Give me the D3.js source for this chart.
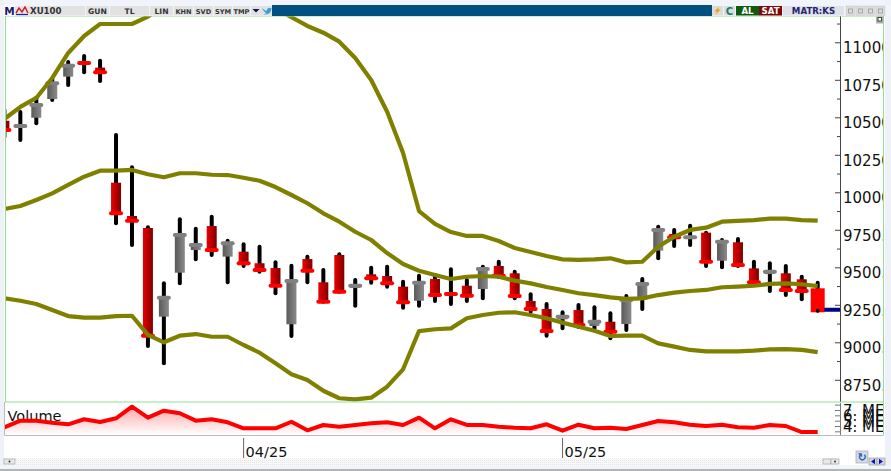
<!DOCTYPE html>
<html><head><meta charset="utf-8">
<style>html,body{margin:0;padding:0;background:#fff;overflow:hidden}svg{display:block}text{font-family:"DejaVu Sans",sans-serif}</style>
<script src="https://cdn.jsdelivr.net/npm/d3@7/dist/d3.min.js"></script>
</head><body><svg id="c" width="891" height="471"></svg>
<script>
const open=[10477,10429,10497,10622,10771,10869,10831,10064,9842,9762,9171,9464,9615,9775,9571,9604,9527,9495,9120,9555,9400,9582,9362,9453,9442,9371,9277,9422,9329,9377,9355,9509,9460,9275,9222,9153,9215,9109,9137,9122,9282,9611,9722,9695,9731,9544,9667,9493,9455,9460,9420,9360];
const high=[10549,10535,10629,10755,10869,10909,10877,10382,10167,9767,9393,9820,9757,9837,9677,9653,9637,9533,9511,9571,9482,9587,9415,9497,9504,9404,9444,9449,9487,9415,9504,9537,9471,9320,9255,9200,9249,9233,9193,9309,9422,9771,9749,9777,9731,9682,9689,9537,9527,9509,9437,9397];
const low=[10369,10349,10460,10615,10715,10800,10742,9793,9649,8975,8860,9393,9553,9582,9400,9509,9471,9327,9042,9400,9271,9337,9244,9397,9371,9231,9244,9275,9255,9275,9293,9435,9293,9204,9044,9093,9102,9093,9027,9082,9222,9560,9642,9649,9509,9500,9509,9389,9342,9315,9287,9211];
const close=[10415,10442,10582,10727,10844,10862,10800,9860,9811,9044,9297,9715,9649,9615,9660,9527,9482,9377,9409,9477,9271,9337,9377,9427,9393,9267,9397,9315,9322,9311,9489,9444,9309,9222,9075,9171,9115,9137,9071,9282,9389,9749,9700,9700,9537,9671,9515,9400,9471,9349,9342,9200];
const upperBand=[10489,10569,10629,10762,10929,11042,11122,11122,11122,11171,11249,11315,11349,11362,11349,11335,11295,11229,11167,11109,11064,11004,10895,10749,10537,10262,9875,9789,9735,9709,9709,9675,9629,9602,9575,9553,9549,9553,9560,9533,9537,9637,9704,9749,9764,9804,9809,9815,9824,9824,9815,9811];
const middleBand=[9889,9909,9949,9993,10049,10104,10144,10144,10149,10120,10100,10127,10127,10117,10115,10097,10077,10035,9982,9927,9860,9804,9737,9682,9595,9522,9477,9449,9422,9437,9442,9437,9411,9393,9369,9349,9327,9315,9300,9289,9293,9315,9331,9342,9349,9367,9371,9377,9389,9393,9387,9375];
const lowerBand=[9293,9277,9255,9215,9175,9164,9164,9175,9177,9049,9000,9044,9055,9037,9037,8982,8931,8860,8787,8749,8677,8627,8620,8631,8704,8820,9075,9087,9093,9160,9182,9197,9200,9182,9160,9131,9104,9077,9042,9044,9044,8993,8971,8949,8940,8940,8940,8944,8953,8955,8949,8935];
const volume=[3.75,5.0,5.0,4.62,4.32,5.26,4.75,5.44,7.62,5.56,6.87,6.38,5.0,5.26,4.69,3.57,3.57,3.57,4.8,3.19,4.19,3.87,4.19,4.5,4.69,4.19,5.56,3.57,5.26,4.19,4.19,3.87,3.68,3.57,4.32,3.12,4.24,3.57,3.68,3.44,4.19,4.94,4.69,4.24,4.0,4.24,3.75,3.68,4.19,4.0,2.87,2.87];
const priceTicks=[8750,9000,9250,9500,9750,10000,10250,10500,10750,11000];
const priceMinor=[8875,9125,9375,9625,9875,10125,10375,10625,10875,11125];
const volumeTicks=[7,6,5,4];
const volumeMinor=[8,3];
const volumeLabels=["7. ME","6. ME","5. ME","4. ME"];
const dateTicks=[{i:15,label:"04/25"},{i:35,label:"05/25"}];
const lastPrice=9217;
const leftTools=[["XU100",29,85,"start"],["GUN",86,109],["TL",110,149],["LIN",150,173],["KHN",174,193],["SVD",194,213],["SYM",214,232],["TMP",233,250]];

const svg=d3.select("#c");
const L=5.5,R=883.5,T=16,B=402,AX=840,VT=403,VB=435;
const x=d3.scaleLinear().domain([0,51]).range([4.4,817.7]);
const y=d3.scaleLinear().domain([11000,9000]).range([42.3,342.3]);
const yv=d3.scaleLinear().domain([7,4]).range([410,426]);
const idx=d3.range(open.length);
const defs=svg.append("defs");
function grad(id,a,b,vert){const g=defs.append("linearGradient").attr("id",id);
 if(vert)g.attr("x1",0).attr("x2",0).attr("y1",0).attr("y2",1);
 g.append("stop").attr("offset",0).attr("stop-color",a);g.append("stop").attr("offset",1).attr("stop-color",b);}
grad("gr","#ee0000","#7c0000");grad("gg","#5a5a5a","#8a8a8a");grad("gv","#ffa8a8","#ffffff",true);
defs.append("clipPath").attr("id","cp").append("rect").attr("x",L).attr("y",T).attr("width",AX-L).attr("height",B-T);
defs.append("clipPath").attr("id","cv").append("rect").attr("x",4).attr("y",VT).attr("width",AX-4).attr("height",VB-VT);
defs.append("clipPath").attr("id","ca").append("rect").attr("x",AX).attr("y",T).attr("width",R-AX).attr("height",VB-T);
const dither=defs.append("pattern").attr("id","dith").attr("width",2).attr("height",2).attr("patternUnits","userSpaceOnUse");
dither.append("rect").attr("width",2).attr("height",2).attr("fill","#f8f8f8");
dither.append("rect").attr("width",1).attr("height",1).attr("fill","#e4e4e4");

// window
svg.append("rect").attr("width",891).attr("height",471).attr("fill","#ffffff");
svg.append("rect").attr("width",891).attr("height",5).attr("fill","#f1f4fa");
svg.append("rect").attr("x",0).attr("y",0).attr("width",4).attr("height",471).attr("fill","#eef1f7");
svg.append("rect").attr("x",885).attr("y",0).attr("width",6).attr("height",471).attr("fill","#eef1f7");
svg.append("rect").attr("x",0).attr("y",465).attr("width",891).attr("height",6).attr("fill","#f1f4fa");
svg.append("rect").attr("x",0).attr("y",469).attr("width",891).attr("height",2).attr("fill","#b4b4b4");

// price pane
const pane=svg.append("g").attr("clip-path","url(#cp)");
pane.append("g").selectAll("line").data(idx).join("line")
 .attr("x1",i=>x(i)).attr("x2",i=>x(i)).attr("y1",i=>y(high[i])).attr("y2",i=>y(low[i]))
 .attr("stroke","#000").attr("stroke-width",4).attr("stroke-linecap","round");
const isUp=i=>close[i]>=open[i];
const last=idx.length-1;
pane.append("g").selectAll("rect").data(idx).join("rect")
 .attr("x",i=>x(i)-(i===last?7:5)).attr("width",i=>i===last?14:10)
 .attr("y",i=>y(Math.max(open[i],close[i]))).attr("height",i=>Math.abs(y(open[i])-y(close[i])))
 .attr("fill",i=>i===last?"#ff0000":isUp(i)?"url(#gg)":"url(#gr)");
pane.append("g").selectAll("rect").data(idx.filter(i=>i!==last)).join("rect")
 .attr("x",i=>x(i)-7).attr("width",14).attr("y",i=>y(close[i])-2).attr("height",4).attr("rx",2)
 .attr("fill",i=>isUp(i)?"#808080":"#ff0000");
pane.append("circle").attr("cx",x(last)).attr("cy",y(low[last])).attr("r",1.8).attr("fill","#000");

const line=d3.line().x((d,i)=>x(i)).y(d=>y(d));
[upperBand,middleBand,lowerBand].forEach(b=>{
 pane.append("path").attr("d",line(b)).attr("fill","none").attr("stroke","#808000").attr("stroke-width",4.2).attr("stroke-linejoin","round");
});
// last-price marker
svg.append("line").attr("x1",x(last)+6.5).attr("x2",AX).attr("y1",y(lastPrice)).attr("y2",y(lastPrice)).attr("stroke","#000080").attr("stroke-width",4);

// volume pane
const vp=svg.append("g").attr("clip-path","url(#cv)");
vp.append("text").attr("x",7.5).attr("y",421).attr("font-size",14.5).attr("fill","#111").text("Volume");
const vx=(d,i)=>x(i);
vp.append("path").attr("d",d3.area().x(vx).y0(VB).y1(d=>yv(d))(volume)).attr("fill","url(#gv)");
vp.append("path").attr("d",d3.line().x(vx).y(d=>yv(d))(volume)).attr("fill","none").attr("stroke","#ff0000").attr("stroke-width",4).attr("stroke-linejoin","round");

// price axis
function style(g){g.select(".domain").remove();g.selectAll("line").attr("stroke","#444").attr("stroke-width",1);}
const gMinor=svg.append("g").attr("clip-path","url(#ca2)").attr("transform",`translate(${AX},0)`);
defs.append("clipPath").attr("id","ca2").append("rect").attr("x",-10).attr("y",T).attr("width",20).attr("height",B-T);
gMinor.call(d3.axisLeft(y).tickValues(priceMinor).tickSize(3).tickFormat("")).call(style);
const gMajor=svg.append("g").attr("transform",`translate(${AX},0)`);
gMajor.call(d3.axisLeft(y).tickValues(priceTicks).tickSize(5).tickFormat(""));
gMajor.call(style);
svg.append("line").attr("x1",AX+.5).attr("x2",AX+.5).attr("y1",T).attr("y2",B).attr("stroke","#444");
svg.append("g").attr("clip-path","url(#ca)").selectAll("text").data(priceTicks).join("text")
 .attr("x",AX+3).attr("y",d=>y(d)+11).attr("font-size",15).attr("fill","#111").text(d=>d+".");

// volume axis
const gv=svg.append("g").attr("transform",`translate(${AX},0)`);
gv.call(d3.axisLeft(yv).tickValues(volumeTicks.concat(volumeMinor)).tickSize(5).tickFormat("")).call(style);
gv.selectAll("line").attr("stroke","#777");
svg.append("line").attr("x1",AX+.5).attr("x2",AX+.5).attr("y1",VT).attr("y2",VB).attr("stroke","#777");
svg.append("g").attr("clip-path","url(#ca)").selectAll("text").data(volumeTicks).join("text")
 .attr("x",AX+3).attr("y",d=>yv(d)+6).attr("font-size",15).attr("fill","#111").text((d,i)=>volumeLabels[i]);

// frames
svg.append("rect").attr("x",L).attr("y",T).attr("width",R-L).attr("height",B-T).attr("fill","none").attr("stroke","#90e090");
svg.append("path").attr("d",`M4.5 ${B} V${VB}.5 H${R}`).attr("fill","none").attr("stroke","#bbbbbb");
svg.append("line").attr("x1",R).attr("x2",R).attr("y1",B).attr("y2",VB).attr("stroke","#90e090");

// date axis
const gd=svg.append("g");
dateTicks.forEach(d=>{
 gd.append("line").attr("x1",x(d.i)).attr("x2",x(d.i)).attr("y1",438).attr("y2",458).attr("stroke","#666");
 gd.append("text").attr("x",x(d.i)+2).attr("y",457).attr("font-size",14.5).attr("fill","#111").text(d.label);
});

// scrollbar
svg.append("rect").attr("x",4).attr("y",458.5).attr("width",833).attr("height",7).attr("fill","url(#dith)");
function btn(a,b,yy,h,fill){svg.append("rect").attr("x",a).attr("y",yy).attr("width",b-a).attr("height",h).attr("fill",fill||"#e8e8e8").attr("stroke","#9a9a9a").attr("stroke-width",.6);}
btn(4,15,459,5);btn(823,831,459,5);btn(831,839,459,5);
svg.append("circle").attr("cx",9.5).attr("cy",461.5).attr("r",.9).attr("fill","#222");
svg.append("circle").attr("cx",835).attr("cy",461.5).attr("r",.9).attr("fill","#222");
btn(856,868,451,12,"#d4dbe6");
svg.append("text").attr("x",862).attr("y",461).attr("text-anchor","middle").attr("font-size",11).attr("font-weight","bold").attr("fill","#1c5fb8").text("↻");
btn(869,877,458,7,"#cfd6e2");btn(877,885,458,7,"#cfd6e2");
svg.append("path").attr("d","M871 461.5 L875 458.8 V464.2 Z M883 461.5 L879 458.8 V464.2 Z").attr("fill","#1010c0");

// toolbar
const tb=svg.append("g");
tb.append("rect").attr("x",0).attr("y",5).attr("width",891).attr("height",11).attr("fill","#f1f4fa");
tb.append("rect").attr("x",4).attr("y",5.5).attr("width",11).attr("height",10).attr("fill","#ffffff");
tb.append("text").attr("x",9.5).attr("y",14.5).attr("text-anchor","middle").attr("font-size",10.5).attr("font-weight","bold").attr("fill","#1a1a70").text("M");
tb.append("rect").attr("x",15).attr("y",6).attr("width",14).attr("height",9.5).attr("fill","#e4e4ee");
tb.append("path").attr("d","M16 13 L19 8 L22 12 L25 7 L28 13").attr("fill","none").attr("stroke","#d02020").attr("stroke-width",1.5);
tb.append("path").attr("d","M16 14.5 H28").attr("stroke","#2020a0").attr("stroke-width",1.2);
tb.selectAll("g.tool").data(leftTools).join("g").attr("class","tool").each(function(d){
 const g=d3.select(this);
 g.append("rect").attr("x",d[1]).attr("y",6).attr("width",d[2]-d[1]).attr("height",9.5).attr("fill","#e2e2e2");
 g.append("text").attr("x",d[3]?d[1]+1:(d[1]+d[2])/2).attr("y",13.6).attr("text-anchor",d[3]||"middle").attr("font-size",d[3]?8.6:(d[2]-d[1]<20?6.6:7.6)).attr("font-weight","bold").attr("fill","#333").text(d[0]);
});
tb.append("rect").attr("x",251).attr("y",6).attr("width",10).attr("height",9.5).attr("fill","#e2e2e2");
tb.append("path").attr("d","M252.5 9 H259.5 L256 12.5 Z").attr("fill","#111150");
tb.append("rect").attr("x",261).attr("y",6).attr("width",11).attr("height",9.5).attr("fill","#e2e2e2");
tb.append("path").attr("d","M262 8 C264 10 266 11 267 10.5 C267 8 269.5 7 271 8.5 L272 8 L271 10 C271 13 267 15.5 263 14 C265 14 266 13.5 266.5 13 C264.5 12.5 263 10.5 262 8 Z").attr("fill","#38a0d8");
tb.append("rect").attr("x",272).attr("y",5).attr("width",440).attr("height",11).attr("fill","#005080");
tb.append("rect").attr("x",712).attr("y",6).attr("width",11).attr("height",9.5).attr("fill","#dcdcdc");
tb.append("path").attr("d","M719 6.5 L714.5 11.5 H717 L715.5 15 L720.5 9.5 H718 Z").attr("fill","#f0a000");
tb.append("rect").attr("x",724).attr("y",6).attr("width",11).attr("height",9.5).attr("fill","#dcdcdc");
tb.append("text").attr("x",729.5).attr("y",14.5).attr("text-anchor","middle").attr("font-size",10).attr("font-weight","bold").attr("fill","#108070").text("C");
tb.append("rect").attr("x",736).attr("y",6).attr("width",23).attr("height",9.5).attr("fill","#0f5c0f");
tb.append("text").attr("x",747.5).attr("y",14).attr("text-anchor","middle").attr("font-size",8.6).attr("font-weight","bold").attr("fill","#fff").text("AL");
tb.append("rect").attr("x",759).attr("y",6).attr("width",23).attr("height",9.5).attr("fill","#7c0808");
tb.append("text").attr("x",770.5).attr("y",14).attr("text-anchor","middle").attr("font-size",8.6).attr("font-weight","bold").attr("fill","#fff").text("SAT");
tb.append("rect").attr("x",783).attr("y",6).attr("width",61).attr("height",9.5).attr("fill","#e0e0e8");
tb.append("text").attr("x",813.5).attr("y",14).attr("text-anchor","middle").attr("font-size",8.6).attr("font-weight","bold").attr("fill","#25256e").text("MATR:KS");
[846,856,866,876].forEach((a,i)=>{
 tb.append("rect").attr("x",a).attr("y",6).attr("width",9).attr("height",9.5).attr("fill","#dcdcdc").attr("stroke","#c4c4c4").attr("stroke-width",.5);
 tb.append("rect").attr("x",a+2.5).attr("y",9).attr("width",4).attr("height",4).attr("fill","none").attr("stroke","#999").attr("stroke-width",.8);
});
tb.append("rect").attr("x",876).attr("y",16.5).attr("width",7.5).attr("height",7).attr("fill","#b0b0b0");
tb.append("rect").attr("x",878).attr("y",17.5).attr("width",3.5).attr("height",3.5).attr("fill","#fff").attr("stroke","#222").attr("stroke-width",.8);
</script></body></html>
